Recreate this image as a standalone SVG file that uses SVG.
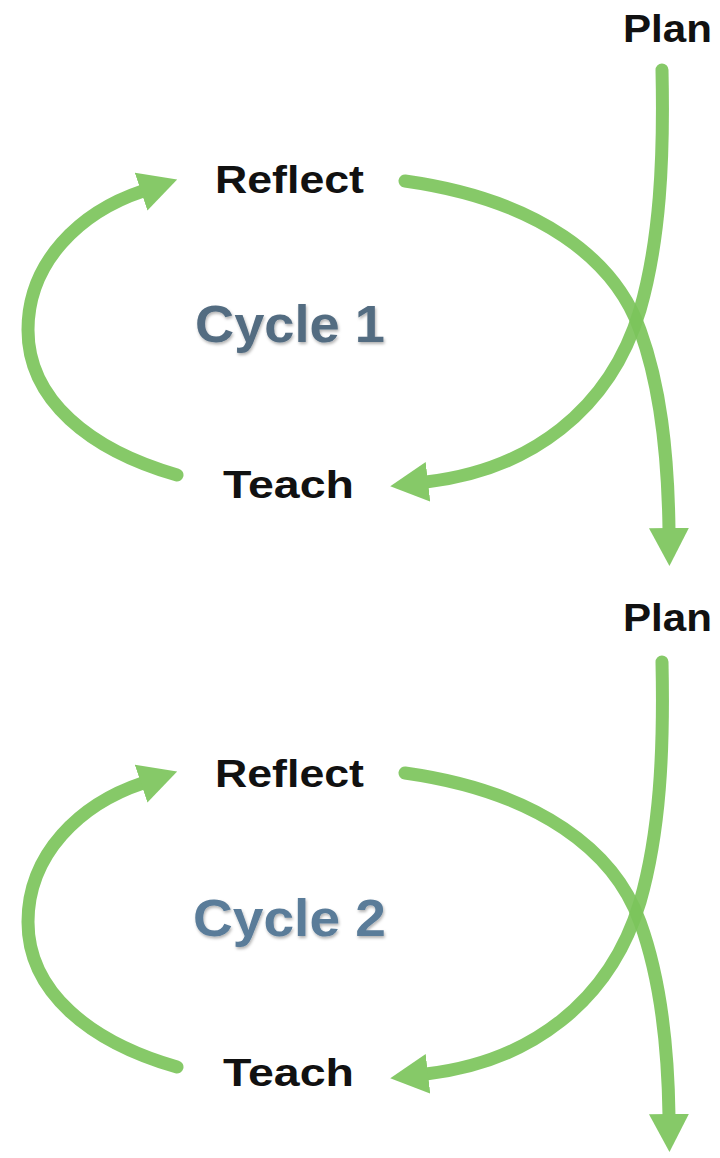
<svg xmlns="http://www.w3.org/2000/svg" width="720" height="1158" viewBox="0 0 720 1158">
<defs>
<style>
.lbl{font-family:"Liberation Sans",Arial,sans-serif;font-weight:bold;font-size:39px;fill:#111}
.cyc{font-family:"Liberation Sans",Arial,sans-serif;font-weight:bold;font-size:52px}
.arc{fill:none;stroke:#7cc55c;stroke-width:13;stroke-linecap:round;opacity:.92}
</style>
<marker id="ah" markerUnits="userSpaceOnUse" markerWidth="42" markerHeight="42" refX="2" refY="20" orient="auto">
<path d="M0,0 L38,20 L0,40 Z" fill="#7cc55c"/>
</marker>
<filter id="sh" x="-10%" y="-20%" width="120%" height="150%">
<feDropShadow dx="1" dy="2" stdDeviation="1.5" flood-color="#000" flood-opacity=".3"/>
</filter>
</defs>
<rect width="720" height="1158" fill="#fff"/>

<g id="connectors">
<g id="cycle1-connectors">
<path class="arc" marker-end="url(#ah)" d="M177,475 C90,450 28,400 28,330 C28,262 80,212 143,191"/>
<path class="arc" marker-end="url(#ah)" d="M405,181 C540,200 615,260 640,330 C660,385 668,450 669,530"/>
<path class="arc" marker-end="url(#ah)" d="M662,70 C664,160 660,240 640,310 C610,410 530,470 426,482"/>
</g>
<g id="cycle2-connectors" transform="translate(0,592)">
<path class="arc" marker-end="url(#ah)" d="M177,475 C90,450 28,400 28,330 C28,262 80,212 143,191"/>
<path class="arc" marker-end="url(#ah)" d="M405,181 C540,200 615,260 640,330 C660,385 668,450 669,524"/>
<path class="arc" marker-end="url(#ah)" d="M662,70 C664,160 660,240 640,310 C610,410 530,470 426,482"/>
</g>
</g>

<g id="plan1"><text class="lbl" x="623" y="42" textLength="89" lengthAdjust="spacingAndGlyphs">Plan</text></g>
<g id="reflect1"><text class="lbl" x="215" y="193" textLength="149" lengthAdjust="spacingAndGlyphs">Reflect</text></g>
<g id="cycle1"><text class="cyc" x="195" y="342" fill="#536c81" filter="url(#sh)" textLength="190" lengthAdjust="spacingAndGlyphs">Cycle 1</text></g>
<g id="teach1"><text class="lbl" x="223" y="498" textLength="131" lengthAdjust="spacingAndGlyphs">Teach</text></g>

<g id="plan2"><text class="lbl" x="623" y="631" textLength="89" lengthAdjust="spacingAndGlyphs">Plan</text></g>
<g id="reflect2"><text class="lbl" x="215" y="787" textLength="149" lengthAdjust="spacingAndGlyphs">Reflect</text></g>
<g id="cycle2"><text class="cyc" x="193" y="936" fill="#5a7c99" filter="url(#sh)" textLength="193" lengthAdjust="spacingAndGlyphs">Cycle 2</text></g>
<g id="teach2"><text class="lbl" x="223" y="1086" textLength="131" lengthAdjust="spacingAndGlyphs">Teach</text></g>
</svg>
